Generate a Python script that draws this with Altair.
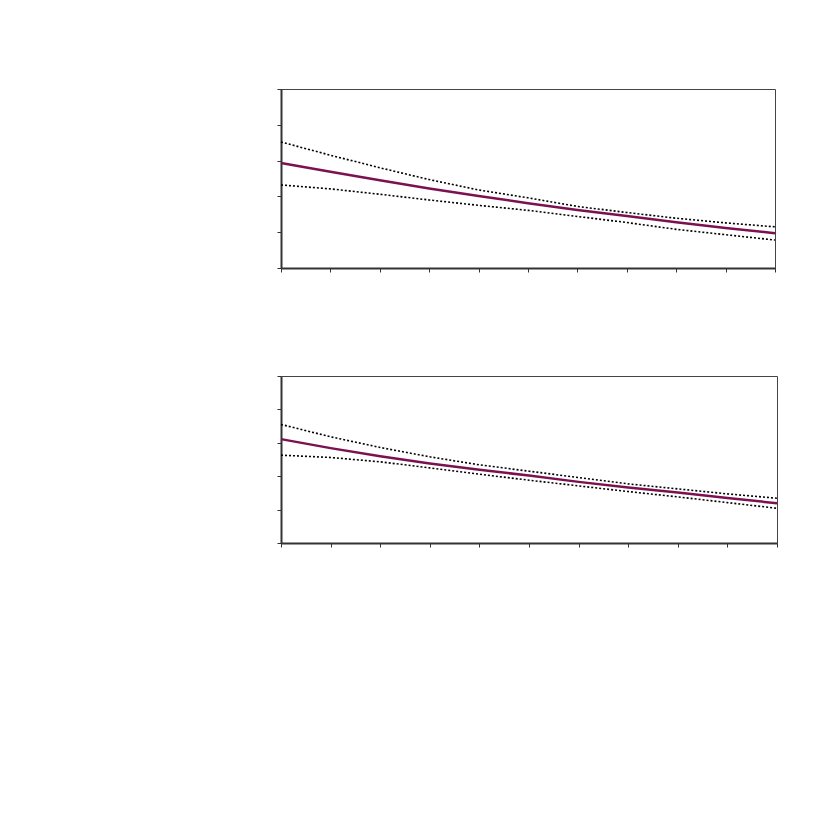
import altair as alt
import pandas as pd

x_idx = list(range(11))

top_main = [2.93, 2.69, 2.45, 2.22, 2.01, 1.81, 1.62, 1.45, 1.28, 1.12, 0.97]
top_upper = [3.52, 3.15, 2.80, 2.47, 2.18, 1.96, 1.72, 1.55, 1.39, 1.26, 1.15]
top_lower = [2.32, 2.21, 2.06, 1.90, 1.75, 1.61, 1.44, 1.27, 1.08, 0.93, 0.78]

bot_main = [3.11, 2.84, 2.60, 2.38, 2.19, 2.02, 1.83, 1.66, 1.51, 1.35, 1.19]
bot_upper = [3.55, 3.18, 2.86, 2.58, 2.34, 2.15, 1.96, 1.77, 1.62, 1.47, 1.34]
bot_lower = [2.63, 2.56, 2.43, 2.25, 2.06, 1.88, 1.71, 1.54, 1.38, 1.21, 1.04]


def panel(main, upper, lower, width, height):
    df = pd.DataFrame({"x": x_idx, "main": main, "upper": upper, "lower": lower})
    xs = alt.X("x:Q", scale=alt.Scale(domain=[0, 10], nice=False),
               axis=alt.Axis(values=list(range(11)), labels=False, title=None, grid=False,
                             ticks=True, tickSize=4, tickColor="#333", tickWidth=1,
                             domainColor="#333", domainWidth=2))
    yax = alt.Axis(values=[0, 1, 2, 3, 4, 5], labels=False, title=None, grid=False,
                   ticks=True, tickSize=4, tickColor="#333", tickWidth=1,
                   domainColor="#333", domainWidth=2)
    ysc = alt.Scale(domain=[0, 5], nice=False)
    base = alt.Chart(df)
    m = base.mark_line(color="#7B1150", strokeWidth=2.5).encode(
        x=xs, y=alt.Y("main:Q", scale=ysc, axis=yax))
    u = base.mark_line(color="black", strokeWidth=1.6, strokeDash=[2, 2]).encode(
        x=xs, y=alt.Y("upper:Q", scale=ysc, axis=yax))
    l = base.mark_line(color="black", strokeWidth=1.6, strokeDash=[2, 2]).encode(
        x=xs, y=alt.Y("lower:Q", scale=ysc, axis=yax))
    return alt.layer(u, l, m).properties(
        width=width, height=height,
        view=alt.ViewBackground(stroke="#444", strokeWidth=1, strokeOpacity=1))


top = panel(top_main, top_upper, top_lower, 494, 179)
bot = panel(bot_main, bot_upper, bot_lower, 496, 167)

chart = alt.vconcat(top, bot, spacing=102).properties(
    padding={"left": 267, "top": 80, "right": 5, "bottom": 5}
).configure_view(stroke="#444", strokeWidth=1, strokeOpacity=1).configure(background="white")

chart.save("out.html", embed_options={"renderer": "svg", "actions": False})
